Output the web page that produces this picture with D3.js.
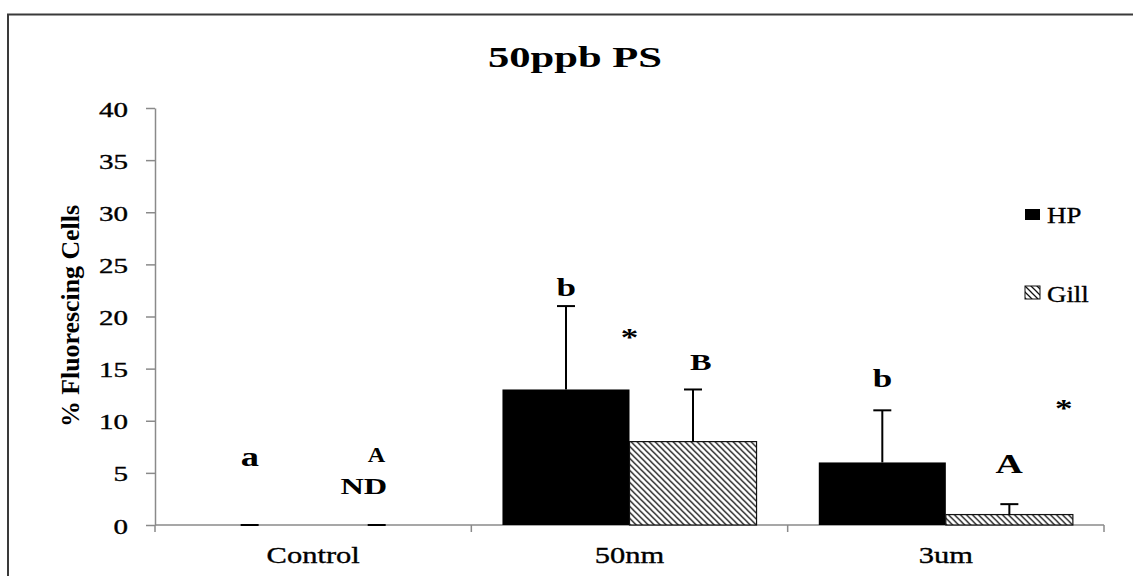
<!DOCTYPE html>
<html>
<head>
<meta charset="utf-8">
<script src="https://cdn.jsdelivr.net/npm/d3@7"></script>
<style>
  html, body { margin: 0; padding: 0; background: #fff; }
  svg { display: block; }
  text { font-family: "Liberation Serif", "Times New Roman", serif; fill: #000; }
  text.reg { stroke: #000; stroke-width: 0.35px; }
</style>
</head>
<body>
<svg id="chart" width="1133" height="576"></svg>
<script>
// Percentage of fluorescing cells after 50 ppb polystyrene exposure
const categories = ["Control", "50nm", "3um"];
const series = ["HP", "Gill"];
const hpValues = [0, 13, 6];
const hpErrors = [0, 8, 5];
const gillValues = [0, 8, 1];
const gillErrors = [0, 5, 1];
const yTicks = [0, 5, 10, 15, 20, 25, 30, 35, 40];

// Significance letters: category, position across the category band (0..1), height in % units
const annotations = [
  { category: "Control", at: 0.30, value: 5.66, text: "a" },
  { category: "Control", at: 0.70, value: 6.07, text: "A" },
  { category: "Control", at: 0.66, value: 2.97, text: "ND" },
  { category: "50nm",    at: 0.30, value: 21.97, text: "b" },
  { category: "50nm",    at: 0.50, value: 17.2, text: "*" },
  { category: "50nm",    at: 0.725, value: 14.87, text: "B" },
  { category: "3um",     at: 0.30, value: 13.24, text: "b" },
  { category: "3um",     at: 0.70, value: 4.99, text: "A" },
  { category: "3um",     at: 0.873, value: 10.36, text: "*" }
];

const rows = categories.map((c, i) => ({
  category: c,
  bars: [
    { series: "HP", value: hpValues[i], error: hpErrors[i] },
    { series: "Gill", value: gillValues[i], error: gillErrors[i] }
  ]
}));

const svg = d3.select("#chart");
const plot = { left: 155, right: 1104, top: 108, bottom: 525 };
const axisColor = "#8a8a8a";

// outer frame
svg.append("rect")
  .attr("x", 8).attr("y", 14.5)
  .attr("width", 1140).attr("height", 600)
  .attr("fill", "none").attr("stroke", "#3a3a3a").attr("stroke-width", 2);

// diagonal hatch for Gill bars
const defs = svg.append("defs");
const hatch = defs.append("pattern")
  .attr("id", "hatch")
  .attr("patternUnits", "userSpaceOnUse")
  .attr("width", 6).attr("height", 6);
hatch.append("rect").attr("width", 6).attr("height", 6).attr("fill", "#fff");
hatch.append("path")
  .attr("d", "M0,0 L6,6 M-1.5,4.5 L1.5,7.5 M4.5,-1.5 L7.5,1.5")
  .attr("stroke", "#111").attr("stroke-width", 1.25);

const x = d3.scaleBand().domain(categories).range([plot.left, plot.right]).paddingInner(0).paddingOuter(0);
const xs = d3.scaleBand().domain(series).range([0, x.bandwidth()]).paddingInner(0).paddingOuter(0.245);
const y = d3.scaleLinear().domain([0, 40]).range([plot.bottom, plot.top]);

function stretchedText(parent, o) {
  return parent.append("text")
    .attr("class", o.weight === "bold" ? "bold" : "reg")
    .attr("transform", `translate(${o.x},${o.y}) scale(${o.sx || 1},1)`)
    .attr("text-anchor", o.anchor || "middle")
    .style("font-size", o.size + "px")
    .style("font-weight", o.weight || "normal")
    .text(o.text);
}

// title
svg.append("text")
  .attr("x", 575).attr("y", 67)
  .attr("text-anchor", "middle")
  .attr("textLength", 174).attr("lengthAdjust", "spacingAndGlyphs")
  .style("font-size", "30px").style("font-weight", "bold")
  .text("50ppb PS");

// y axis
const yAxis = svg.append("g")
  .attr("transform", `translate(${plot.left},0)`)
  .call(d3.axisLeft(y).tickValues(yTicks).tickSize(9).tickSizeOuter(0));
yAxis.select(".domain").attr("stroke", axisColor).attr("stroke-width", 1.5);
yAxis.selectAll(".tick line").attr("stroke", axisColor).attr("stroke-width", 1.5);
yAxis.selectAll(".tick text")
  .attr("class", "reg")
  .attr("x", null).attr("dy", "0.4em")
  .attr("transform", "translate(-27,0) scale(1.45,1)")
  .attr("font-family", null).attr("font-size", null)
  .style("font-size", "20px").attr("fill", null);

// y axis title
svg.append("text")
  .attr("transform", "translate(79,316) rotate(-90)")
  .attr("text-anchor", "middle")
  .attr("textLength", 222).attr("lengthAdjust", "spacingAndGlyphs")
  .style("font-size", "25px").style("font-weight", "bold")
  .text("% Fluorescing Cells");

// x axis baseline and band boundary ticks
const xAxis = svg.append("g");
xAxis.append("line")
  .attr("x1", plot.left).attr("x2", plot.right)
  .attr("y1", plot.bottom).attr("y2", plot.bottom)
  .attr("stroke", axisColor).attr("stroke-width", 1.5);
const edges = categories.map(c => x(c)).concat([x(categories[categories.length - 1]) + x.bandwidth()]);
xAxis.selectAll("line.edge").data(edges).join("line")
  .attr("class", "edge")
  .attr("x1", d => d).attr("x2", d => d)
  .attr("y1", plot.bottom).attr("y2", plot.bottom + 7)
  .attr("stroke", axisColor).attr("stroke-width", 1.5);
categories.forEach(c => {
  stretchedText(svg, { x: x(c) + x.bandwidth() / 2, y: 562.5, text: c, size: 24, sx: 1.27 });
});

// bars
const groups = svg.selectAll("g.group").data(rows).join("g")
  .attr("class", "group")
  .attr("transform", d => `translate(${x(d.category)},0)`);

groups.selectAll("rect.bar").data(d => d.bars).join("rect")
  .attr("class", "bar")
  .attr("x", d => xs(d.series))
  .attr("width", xs.bandwidth())
  .attr("y", d => y(d.value))
  .attr("height", d => y(0) - y(d.value))
  .attr("fill", d => d.series === "HP" ? "#000" : "url(#hatch)")
  .attr("stroke", d => d.series === "HP" ? "none" : "#111")
  .attr("stroke-width", 1.2);

// upper error bars
const capHalf = 9;
const err = groups.selectAll("g.err").data(d => d.bars).join("g").attr("class", "err");
err.append("line")
  .attr("x1", d => xs(d.series) + xs.bandwidth() / 2)
  .attr("x2", d => xs(d.series) + xs.bandwidth() / 2)
  .attr("y1", d => y(d.value))
  .attr("y2", d => y(d.value + d.error))
  .attr("stroke", "#000").attr("stroke-width", 2);
err.append("line")
  .attr("x1", d => xs(d.series) + xs.bandwidth() / 2 - capHalf)
  .attr("x2", d => xs(d.series) + xs.bandwidth() / 2 + capHalf)
  .attr("y1", d => y(d.value + d.error))
  .attr("y2", d => y(d.value + d.error))
  .attr("stroke", "#000").attr("stroke-width", 2);

// significance letters
const labelSize = { "a": 27, "b": 26, "B": 24, "A": 28, "ND": 24, "*": 26 };
annotations.forEach(a => {
  const small = a.category === "Control" && a.text === "A";
  stretchedText(svg, {
    x: x(a.category) + a.at * x.bandwidth(),
    y: y(a.value),
    text: a.text,
    size: small ? 22 : labelSize[a.text],
    weight: "bold",
    sx: small ? 1.1 : 1.35
  });
});

// legend
const legend = svg.append("g").attr("transform", "translate(1025,209)");
series.forEach((s, i) => {
  const row = legend.append("g").attr("transform", `translate(0,${i * 77})`);
  row.append("rect")
    .attr("width", 15).attr("height", i === 0 ? 11 : 13)
    .attr("fill", s === "HP" ? "#000" : "url(#hatch)")
    .attr("stroke", s === "HP" ? "none" : "#111").attr("stroke-width", 1);
  stretchedText(row, { x: 22, y: i === 0 ? 14.3 : 15.5, text: s, size: 24, sx: 1.12, anchor: "start" });
});
</script>
</body>
</html>
